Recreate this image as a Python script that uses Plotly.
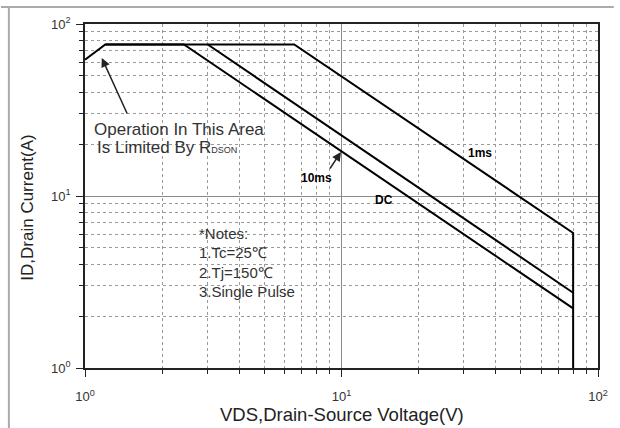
import plotly.graph_objects as go

# Data
vds_1ms = [1, 1.2, 6.54, 80, 80]
id_1ms = [62, 76, 76, 6.1, 1]
vds_10ms = [3.01, 80]
id_10ms = [76, 2.74]
vds_dc = [1.2, 2.43, 80]
id_dc = [76, 76, 2.22]

major_vals = [1, 10, 100]
major_text = ["10<sup>0</sup>", "10<sup>1</sup>", "10<sup>2</sup>"]
minor_vals = [2, 3, 4, 5, 6, 7, 8, 9, 20, 30, 40, 50, 60, 70, 80, 90]

W, H = 620, 428
L, R, T, B = 85, 16, 24, 60
PW, PH = W - L - R, H - T - B

def px(x):
    return (x - L) / PW

def py(y):
    return (H - B - y) / PH

fig = go.Figure()
line = dict(color="black", width=2)
fig.add_trace(go.Scatter(x=vds_1ms, y=id_1ms, mode="lines", line=line, name="1ms"))
fig.add_trace(go.Scatter(x=vds_10ms, y=id_10ms, mode="lines", line=line, name="10ms"))
fig.add_trace(go.Scatter(x=vds_dc, y=id_dc, mode="lines", line=line, name="DC"))

font = "Liberation Sans, Arial, sans-serif"
axis_common = dict(
    type="log",
    range=[0, 2],
    tickmode="array",
    tickvals=major_vals,
    ticktext=major_text,
    ticks="outside",
    ticklen=7,
    tickcolor="#222",
    tickwidth=1.2,
    showline=True,
    linecolor="#222",
    linewidth=1.5,
    mirror=True,
    showgrid=True,
    gridcolor="#8a8a8a",
    gridwidth=1,
    zeroline=False,
    tickfont=dict(family=font, size=13, color="#333"),
    minor=dict(
        tickmode="array",
        tickvals=minor_vals,
        ticks="outside",
        ticklen=4,
        tickcolor="#222",
        showgrid=True,
        gridcolor="#9a9a9a",
        griddash="dot",
        gridwidth=1,
    ),
)

fig.update_xaxes(ticklabelstandoff=9, **axis_common)
fig.update_yaxes(ticklabelstandoff=3, **axis_common)

ann = []
# axis titles
ann.append(dict(xref="paper", yref="paper", x=px(345), y=py(414), text="VDS,Drain-Source Voltage(V)",
                showarrow=False, xanchor="center", yanchor="middle",
                font=dict(family=font, size=18.5, color="#222")))
ann.append(dict(xref="paper", yref="paper", x=px(26), y=py(208), text="ID,Drain Current(A)",
                showarrow=False, xanchor="center", yanchor="middle", textangle=-90,
                font=dict(family=font, size=17, color="#222")))

tf = dict(family=font, size=17, color="#333")
ann.append(dict(xref="paper", yref="paper", x=px(92), y=py(129), text="Operation In This Area",
                showarrow=False, xanchor="left", yanchor="middle", font=tf))
ann.append(dict(xref="paper", yref="paper", x=px(95), y=py(147),
                text="Is Limited By R<span style='font-size:9px'>DSON</span>",
                showarrow=False, xanchor="left", yanchor="middle", font=tf))
nf = dict(family=font, size=15, color="#333")
for i, t in enumerate(["*Notes:", "1.Tc=25\u2103", "2.Tj=150\u2103", "3.Single Pulse"]):
    ann.append(dict(xref="paper", yref="paper", x=px(198), y=py(233 + 19.5 * i), text=t,
                    showarrow=False, xanchor="left", yanchor="middle", font=nf))
bf = dict(family=font, size=12, color="black")
ann.append(dict(xref="paper", yref="paper", x=px(319), y=py(178), text="<b>10ms</b>",
                showarrow=False, font=bf))
ann.append(dict(xref="paper", yref="paper", x=px(387), y=py(200), text="<b>DC</b>",
                showarrow=False, font=bf))
ann.append(dict(xref="paper", yref="paper", x=px(470), y=py(153), text="<b>1ms</b>",
                showarrow=False, xanchor="left", font=bf))
# arrows
ann.append(dict(xref="paper", yref="paper", x=px(102), y=py(58), text="", showarrow=True,
                axref="pixel", ayref="pixel", ax=26, ay=57, arrowhead=2, arrowsize=1.2,
                arrowwidth=1.5, arrowcolor="#222"))
ann.append(dict(xref="paper", yref="paper", x=px(344), y=py(152), text="", showarrow=True,
                axref="pixel", ayref="pixel", ax=-12, ay=18, arrowhead=2, arrowsize=1.2,
                arrowwidth=1.5, arrowcolor="#222"))

shapes = [
    dict(type="line", xref="paper", yref="paper", x0=px(0), x1=px(W), y0=py(7), y1=py(7),
         line=dict(color="#aaaaaa", width=2)),
    dict(type="line", xref="paper", yref="paper", x0=px(8), x1=px(8), y0=py(7), y1=py(H),
         line=dict(color="#aaaaaa", width=2)),
]

fig.update_layout(
    width=W, height=H,
    margin=dict(l=L, r=R, t=T, b=B),
    paper_bgcolor="white", plot_bgcolor="white",
    showlegend=False,
    annotations=ann,
    shapes=shapes,
)

fig.write_html("out.html", config={"displayModeBar": False},
               post_script="document.body.style.margin='0';document.body.style.overflow='hidden';")
